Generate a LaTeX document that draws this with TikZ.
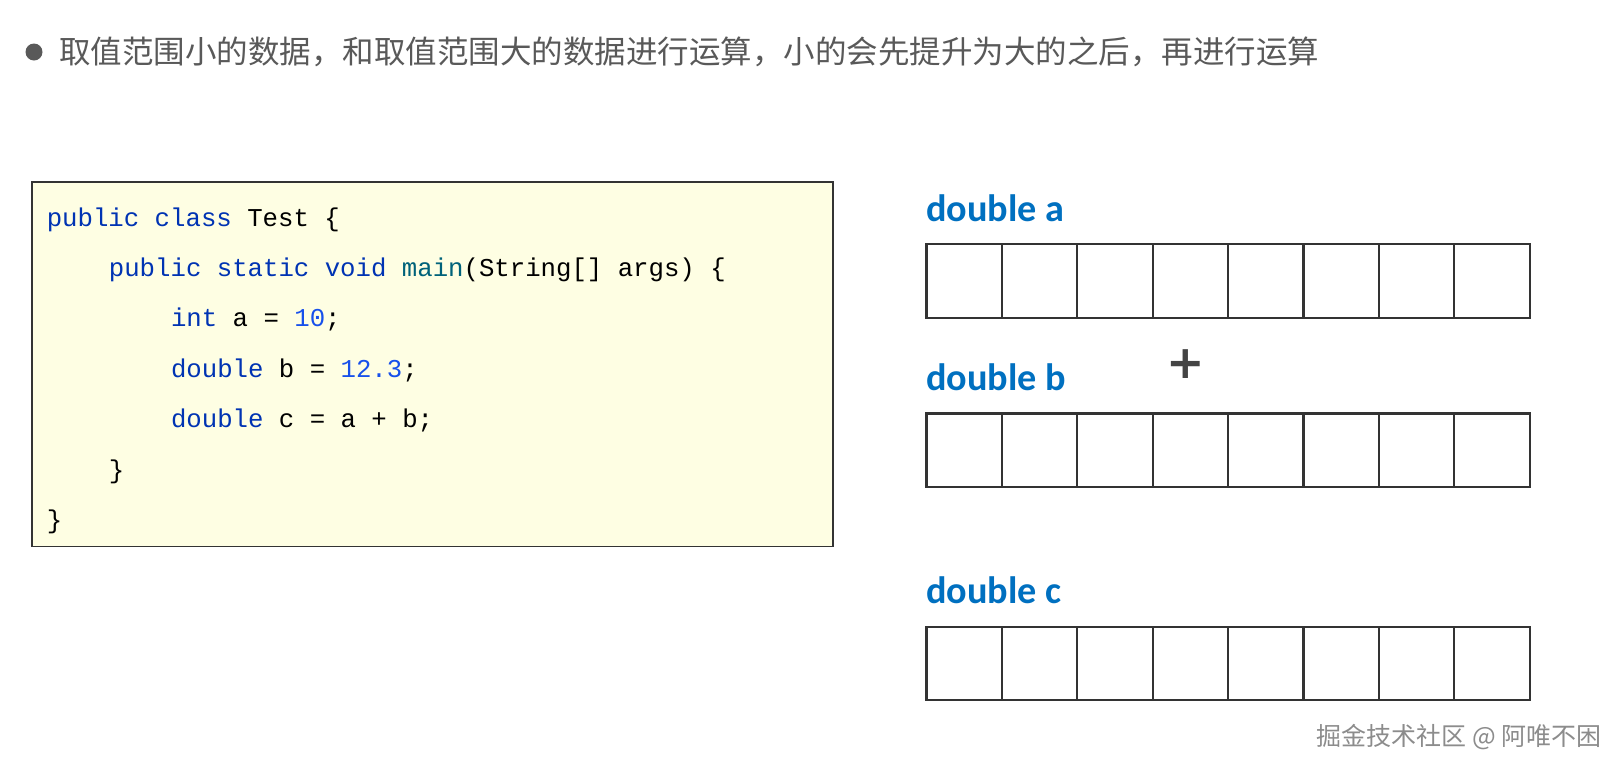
\documentclass[tikz,border=0pt]{standalone}
\usepackage{fontspec}
\newfontfamily\cjk{Noto Sans CJK SC}
\newfontfamily\codefont{Liberation Mono}
\newfontfamily\labfont{Carlito}
\newfontfamily\plusfont{DejaVu Sans}
\definecolor{titlegray}{HTML}{595959}
\definecolor{kw}{HTML}{0033B3}
\definecolor{meth}{HTML}{00627A}
\definecolor{num}{HTML}{1750EB}
\definecolor{codebg}{HTML}{FEFEE3}
\definecolor{boxline}{HTML}{333333}
\definecolor{plusgray}{HTML}{444444}
\definecolor{labblue}{HTML}{0070C0}
\definecolor{wm}{HTML}{8C8C8C}
\tikzset{
  code/.style={anchor=base west, inner sep=0, font=\codefont\fontsize{25.7}{30}\selectfont, text=black},
  cell/.style={draw=boxline, line width=2.2pt, minimum width=75.4pt, minimum height=73.5pt, inner sep=0},
  lab/.style={anchor=base west, inner sep=0, font=\labfont\bfseries\fontsize{38.2}{42}\selectfont, text=labblue},
}
\begin{document}
\begin{tikzpicture}[x=1pt,y=-1pt]
\path[use as bounding box, fill=white] (0,0) rectangle (1623,772);
% title
\node[circle, fill=titlegray, minimum size=17pt, inner sep=0] (bullet) at (34,52) {};
\node[anchor=west, inner sep=0, text=titlegray, font=\cjk\fontsize{31.5}{38}\selectfont] (title) at (59,52) {取值范围小的数据，和取值范围大的数据进行运算，小的会先提升为大的之后，再进行运算};
% code box
\node[draw=boxline, fill=codebg, line width=1.6pt, minimum width=801pt, minimum height=364.5pt, inner sep=0] (codebox) at (432.5,364.25) {};
\node[code] (l1) at (46.6,226) {\textcolor{kw}{public class} Test \{};
\node[code] (l2) at (108.7,276.4) {\textcolor{kw}{public static void} \textcolor{meth}{main}(String[] args) \{};
\node[code] (l3) at (170.8,326.8) {\textcolor{kw}{int} a = \textcolor{num}{10};};
\node[code] (l4) at (170.8,377.2) {\textcolor{kw}{double} b = \textcolor{num}{12.3};};
\node[code] (l5) at (170.8,427.6) {\textcolor{kw}{double} c = a + b;};
\node[code] (l6) at (108.7,478) {\}};
\node[code] (l7) at (46.6,528.4) {\}};
% labels
\node[lab] (la) at (926,221.5) {double a};
\node[lab] (lb) at (926,390) {double b};
\node[lab] (lc) at (926,603.5) {double c};
% grids
\foreach \r/\y in {a/281, b/450.2, c/663.5}{
  \foreach \i in {1,...,8}{
    \node[cell] (\r\i) at ({926.4+75.4*(\i-0.5)},\y) {};
  }
}
% plus
\node[inner sep=0, text=plusgray, font=\plusfont\bfseries\fontsize{46}{50}\selectfont] (plus) at (1186,364) {+};
% watermark
\node[anchor=east, inner sep=0, text=wm, font=\cjk\fontsize{25}{29}\selectfont] (wmark) at (1602,737) {掘金技术社区 @ 阿唯不困};
\end{tikzpicture}
\end{document}
